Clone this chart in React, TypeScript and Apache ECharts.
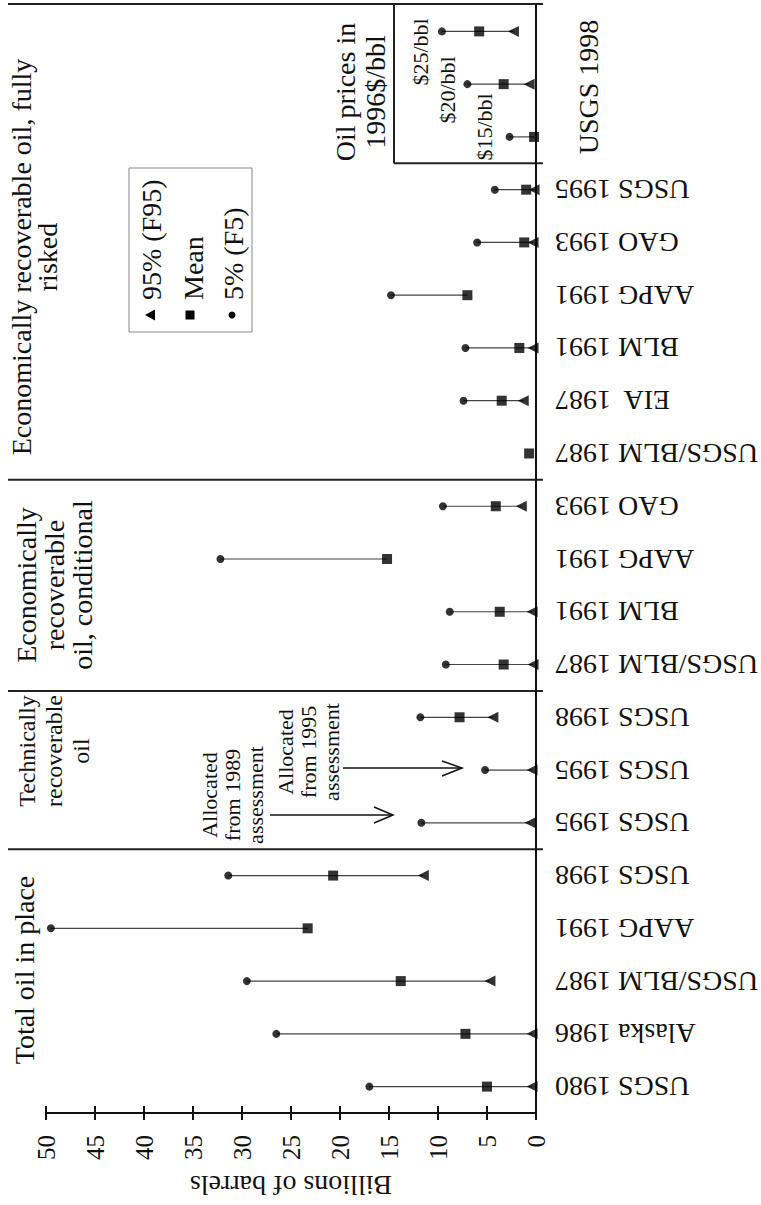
import React, { useEffect, useRef } from "react";
import * as echarts from "echarts";

const FONT = "'Liberation Serif', 'Times New Roman', serif";

const categories = [
  "USGS 1980", "Alaska 1986", "USGS/BLM 1987", "AAPG 1991", "USGS 1998",
  "USGS 1995", "USGS 1995", "USGS 1998",
  "USGS/BLM 1987", "BLM 1991", "AAPG 1991", "GAO 1993",
  "USGS/BLM 1987", "EIA  1987", "BLM 1991", "AAPG 1991", "GAO 1993", "USGS 1995",
  "$15/bbl", "$20/bbl", "$25/bbl",
];

// 5% (F5) values, billions of barrels
const f5: (number | null)[] = [17.0, 26.5, 29.5, 49.5, 31.4, 11.7, 5.2, 11.8, 9.2, 8.8, 32.2, 9.5, null, 7.4, 7.2, 14.8, 6.0, 4.2, 2.7, 7.0, 9.6];
// Mean values
const mean: (number | null)[] = [5.0, 7.2, 13.8, 23.3, 20.7, null, null, 7.8, 3.3, 3.7, 15.2, 4.1, 0.7, 3.5, 1.7, 7.0, 1.2, 1.0, 0.2, 3.3, 5.8];
// 95% (F95) values
const f95: (number | null)[] = [0.4, 0.4, 4.7, null, 11.5, 0.6, 0.4, 4.4, 0.3, 0.4, null, 1.5, null, 1.3, 0.3, null, 0.3, 0.2, null, 0.7, 2.3];

const valueTicks = { min: 0, max: 50, interval: 5 };
const fullDividersAfter = [4, 7, 11];
const insetDividerAfter = 17;
const insetStart = 18;

export default function App() {
  const ref = useRef<HTMLDivElement>(null);
  useEffect(() => {
    const el = ref.current!;
    const chart = echarts.init(el, null, { renderer: "svg" });

    const toPts = (arr: (number | null)[]) =>
      arr.map((v, i) => (v == null ? null : [v, i])).filter((d) => d != null) as number[][];

    const lineData = categories
      .map((_, i) => {
        const vs = [f5[i], mean[i], f95[i]].filter((v) => v != null) as number[];
        return vs.length >= 2 ? [i, Math.max(...vs), Math.min(...vs)] : null;
      })
      .filter((d) => d != null) as number[][];

    const tickStyle = { color: "#111", width: 2 };

    chart.setOption({
      animation: false,
      backgroundColor: "#fff",
      grid: { left: 46, right: 225, top: 5, bottom: 92, containLabel: false, outerBoundsMode: "none" },
      xAxis: [
        {
          type: "value", ...valueTicks, inverse: true, position: "bottom",
          axisLine: { show: true, lineStyle: tickStyle },
          axisTick: { show: true, length: 7, lineStyle: tickStyle },
          axisLabel: { rotate: 90, margin: 22, fontSize: 25, fontFamily: FONT, color: "#111" },
          splitLine: { show: false },
          name: "Billions of barrels", nameLocation: "middle", nameRotate: 180, nameGap: 58,
          nameMoveOverlap: false,
          nameTextStyle: { fontSize: 28, fontFamily: FONT, color: "#111" },
        },
        {
          type: "value", ...valueTicks, inverse: true, position: "bottom",
          axisLine: { show: false },
          axisTick: { show: true, inside: true, length: 7, lineStyle: tickStyle },
          axisLabel: { show: false },
          splitLine: { show: false },
        },
      ],
      yAxis: {
        type: "category", data: categories, position: "right",
        axisLine: { show: true, lineStyle: tickStyle },
        axisTick: { show: false },
        splitLine: { show: false },
        axisLabel: {
          interval: 0, rotate: 180, align: "right", verticalAlign: "middle", margin: 19,
          padding: [0, 0, 5, 0],
          fontSize: 28, fontFamily: FONT, color: "#111",
          formatter: (v: string, i: number) => (i >= insetStart ? "" : v),
        },
      },
      series: [
        {
          type: "custom", name: "range", data: lineData, encode: { y: 0, x: [1, 2] },
          renderItem: (_p: any, api: any) => {
            const a = api.coord([api.value(1), api.value(0)]);
            const b = api.coord([api.value(2), api.value(0)]);
            return { type: "line", shape: { x1: a[0], y1: a[1], x2: b[0], y2: b[1] }, style: { stroke: "#444", lineWidth: 1.2 } };
          },
          z: 1,
        },
        { type: "scatter", name: "5% (F5)", data: toPts(f5), symbol: "circle", symbolSize: 8, itemStyle: { color: "#000" }, z: 3 },
        { type: "scatter", name: "Mean", data: toPts(mean), symbol: "rect", symbolSize: 10, itemStyle: { color: "#000" }, z: 3 },
        { type: "scatter", name: "95% (F95)", data: toPts(f95), symbol: "triangle", symbolSize: [11, 11], symbolRotate: 90, itemStyle: { color: "#000" }, z: 3 },
      ],
    });

    const yc = (i: number) => chart.convertToPixel({ yAxisIndex: 0 } as any, i) as unknown as number;
    const x0 = chart.convertToPixel({ xAxisIndex: 0 } as any, 0) as unknown as number;
    const bound = (i: number) => (yc(i) + yc(i + 1)) / 2;
    const band = yc(0) - yc(1);
    const top = yc(categories.length - 1) - band / 2 - 1;
    const xL = 8;
    const xR = x0 + 7;
    const insetX = 394;
    const dark = { stroke: "#222", lineWidth: 2 };

    const txt = (text: string, x: number, y: number, size: number, lh: number, align = "center") => ({
      type: "text", x, y, rotation: Math.PI / 2,
      style: {
        text, fontSize: size, fontFamily: FONT, fill: "#111", lineHeight: lh,
        align, verticalAlign: "middle", textAlign: align, textVerticalAlign: "middle",
      },
    });
    const ln = (x1: number, y1: number, x2: number, y2: number, style: any = dark) => ({
      type: "line", shape: { x1, y1, x2, y2 }, style,
    });

    const b17 = bound(insetDividerAfter);
    const graphics: any[] = [
      ln(xL, top, xR, top),
      ln(x0, top, x0, yc(categories.length - 1)),
      ...fullDividersAfter.map((i) => ln(xL, bound(i), xR, bound(i))),
      ln(insetX, top, insetX, b17),
      ln(insetX, b17, xR, b17),
      // panel titles
      txt("Total oil in place", 24, 970, 28, 28),
      txt("Technically\nrecoverable\noil", 54, 751, 24, 27),
      txt("Economically\nrecoverable\noil, conditional", 54, 585, 28, 28),
      txt("Economically recoverable oil, fully\nrisked", 34, 257, 28, 26),
      // inset
      txt("Oil prices in\n1996$/bbl", 360, 92, 28, 30),
      txt("USGS 1998", 588, 87, 28, 28),
      txt("$25/bbl", 420, 52, 22, 22),
      txt("$20/bbl", 447, 90, 22, 22),
      txt("$15/bbl", 484, 127, 22, 22),
      // annotations
      txt("Allocated\nfrom 1989\nassessment", 232, 795, 22, 23),
      txt("Allocated\nfrom 1995\nassessment", 308, 752, 22, 23),
      ln(270, 815, 393, 815, { stroke: "#111", lineWidth: 1.5 }),
      { type: "polyline", shape: { points: [[374, 807], [393, 815], [374, 823]] }, style: { stroke: "#111", lineWidth: 1.5, fill: "none" } },
      ln(343, 768, 462, 768, { stroke: "#111", lineWidth: 1.5 }),
      { type: "polyline", shape: { points: [[442, 761], [462, 768], [442, 776]] }, style: { stroke: "#111", lineWidth: 1.5, fill: "none" } },
      // legend
      { type: "rect", shape: { x: 129, y: 168, width: 123, height: 164 }, style: { stroke: "#888", lineWidth: 1, fill: "none" } },
      { type: "polygon", shape: { points: [[145, 315], [155, 309.5], [155, 320.5]] }, style: { fill: "#000" } },
      { type: "rect", shape: { x: 185.5, y: 310.5, width: 9, height: 9 }, style: { fill: "#000" } },
      { type: "circle", shape: { cx: 232, cy: 315, r: 3.5 }, style: { fill: "#000" } },
      txt("95% (F95)", 151, 300, 28, 28, "left"),
      txt("Mean", 193, 300, 28, 28, "left"),
      txt("5% (F5)", 233, 300, 28, 28, "left"),
    ];
    chart.setOption({ graphic: graphics });

    return () => chart.dispose();
  }, []);

  return (
    <div
      ref={ref}
      style={{ position: "fixed", left: 0, top: 0, width: 761, height: 1205, background: "#fff" }}
    />
  );
}
